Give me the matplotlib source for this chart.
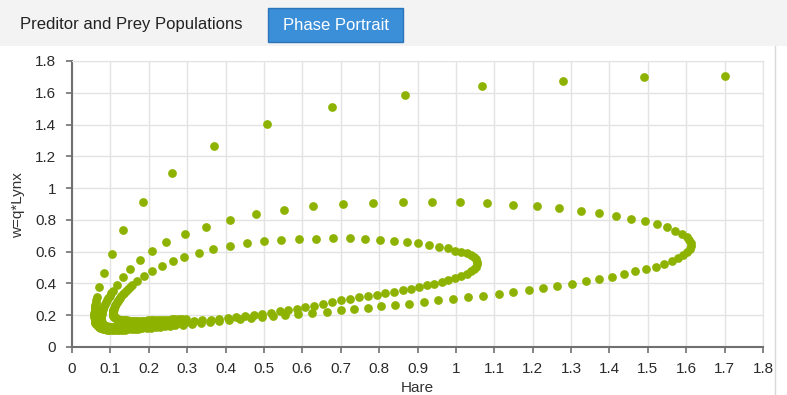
import matplotlib.pyplot as plt
from matplotlib.patches import Rectangle
from matplotlib.lines import Line2D

plt.rcParams['font.family'] = ['Liberation Sans', 'DejaVu Sans']

# trajectory, (hare, w=q*Lynx), in time order
first_drop = [(1.701, 1.705), (1.490, 1.697), (1.278, 1.676), (1.068, 1.643), (0.867, 1.588),
              (0.677, 1.508), (0.509, 1.401), (0.369, 1.263), (0.260, 1.097), (0.184, 0.914),
              (0.134, 0.738), (0.103, 0.587), (0.084, 0.468), (0.071, 0.376), (0.065, 0.313),
              (0.063, 0.295), (0.062, 0.280), (0.061, 0.265), (0.060, 0.251), (0.059, 0.238),
              (0.059, 0.225), (0.058, 0.213), (0.058, 0.201), (0.058, 0.190), (0.059, 0.179),
              (0.059, 0.169), (0.060, 0.160), (0.061, 0.152), (0.063, 0.144), (0.065, 0.137),
              (0.067, 0.131), (0.070, 0.125), (0.073, 0.121), (0.077, 0.117), (0.081, 0.114),
              (0.086, 0.112), (0.091, 0.110), (0.097, 0.109), (0.103, 0.108)]

outer_lap = [(0.109, 0.108), (0.116, 0.108), (0.123, 0.108), (0.130, 0.109), (0.138, 0.110),
             (0.146, 0.111), (0.155, 0.112), (0.164, 0.113), (0.173, 0.115), (0.183, 0.117),
             (0.195, 0.119), (0.206, 0.122), (0.218, 0.124), (0.230, 0.127), (0.243, 0.130),
             (0.256, 0.133), (0.269, 0.136), (0.290, 0.141), (0.312, 0.146), (0.335, 0.151),
             (0.359, 0.157), (0.384, 0.163), (0.410, 0.169), (0.437, 0.175), (0.465, 0.181),
             (0.494, 0.187), (0.524, 0.193), (0.555, 0.199), (0.588, 0.205), (0.626, 0.212),
             (0.665, 0.220), (0.701, 0.231), (0.735, 0.239), (0.770, 0.247), (0.805, 0.256),
             (0.842, 0.264), (0.879, 0.273), (0.917, 0.281), (0.954, 0.294), (0.993, 0.302),
             (1.032, 0.313), (1.071, 0.323), (1.111, 0.334), (1.150, 0.346), (1.190, 0.361),
             (1.228, 0.373), (1.264, 0.386), (1.302, 0.398), (1.338, 0.413), (1.373, 0.430),
             (1.407, 0.442), (1.437, 0.457), (1.467, 0.478), (1.494, 0.491), (1.520, 0.505),
             (1.542, 0.524), (1.562, 0.541), (1.579, 0.560), (1.592, 0.578), (1.602, 0.596),
             (1.609, 0.615), (1.612, 0.634), (1.612, 0.653), (1.608, 0.672), (1.601, 0.694),
             (1.589, 0.714), (1.572, 0.732), (1.551, 0.753), (1.523, 0.772), (1.493, 0.791),
             (1.456, 0.808), (1.417, 0.826), (1.373, 0.843), (1.326, 0.856), (1.269, 0.873),
             (1.210, 0.885), (1.148, 0.896), (1.082, 0.904), (1.012, 0.910), (0.938, 0.910),
             (0.861, 0.910), (0.783, 0.908), (0.705, 0.898), (0.628, 0.885), (0.551, 0.862),
             (0.479, 0.837), (0.411, 0.799), (0.348, 0.757), (0.294, 0.709), (0.246, 0.659),
             (0.208, 0.604), (0.177, 0.545), (0.152, 0.491), (0.133, 0.439), (0.116, 0.390)]

inner_lap = [(0.106, 0.355), (0.101, 0.338), (0.098, 0.324), (0.094, 0.309), (0.091, 0.296),
             (0.088, 0.283), (0.086, 0.271), (0.084, 0.259), (0.082, 0.248), (0.080, 0.238),
             (0.079, 0.228), (0.078, 0.219), (0.077, 0.210), (0.076, 0.202), (0.076, 0.194),
             (0.076, 0.187), (0.076, 0.180), (0.076, 0.173), (0.076, 0.166), (0.077, 0.159),
             (0.078, 0.152), (0.079, 0.146), (0.081, 0.141), (0.083, 0.137), (0.086, 0.133),
             (0.090, 0.130), (0.094, 0.128), (0.098, 0.127), (0.102, 0.126), (0.107, 0.125),
             (0.112, 0.125), (0.117, 0.125), (0.123, 0.125), (0.129, 0.125), (0.136, 0.126),
             (0.143, 0.127), (0.150, 0.128), (0.157, 0.129), (0.165, 0.130), (0.173, 0.131),
             (0.181, 0.133), (0.189, 0.134), (0.198, 0.136), (0.207, 0.138), (0.216, 0.140),
             (0.225, 0.142), (0.235, 0.144), (0.245, 0.146), (0.255, 0.148), (0.275, 0.152),
             (0.296, 0.157), (0.317, 0.162), (0.339, 0.167), (0.361, 0.172), (0.383, 0.178),
             (0.406, 0.184), (0.428, 0.190), (0.451, 0.196), (0.473, 0.203), (0.496, 0.210),
             (0.518, 0.217), (0.541, 0.225), (0.563, 0.233), (0.586, 0.242), (0.608, 0.251),
             (0.631, 0.261), (0.653, 0.271), (0.676, 0.283), (0.700, 0.294), (0.724, 0.302),
             (0.748, 0.313), (0.770, 0.321), (0.794, 0.329), (0.816, 0.340), (0.839, 0.348),
             (0.861, 0.357), (0.882, 0.367), (0.904, 0.378), (0.924, 0.388), (0.944, 0.398),
             (0.963, 0.411), (0.980, 0.424), (0.998, 0.436), (1.014, 0.449), (1.028, 0.462),
             (1.039, 0.476), (1.047, 0.491), (1.052, 0.506), (1.054, 0.521), (1.054, 0.536),
             (1.052, 0.551), (1.047, 0.566), (1.039, 0.580), (1.029, 0.592), (1.014, 0.600),
             (0.998, 0.606), (0.979, 0.621), (0.955, 0.631), (0.930, 0.642), (0.901, 0.653),
             (0.873, 0.663), (0.839, 0.669), (0.802, 0.675), (0.763, 0.680), (0.723, 0.684),
             (0.679, 0.684), (0.636, 0.682), (0.591, 0.680), (0.544, 0.673), (0.500, 0.665),
             (0.455, 0.653), (0.411, 0.634), (0.368, 0.617), (0.331, 0.594), (0.293, 0.568),
             (0.262, 0.541), (0.234, 0.510), (0.208, 0.480), (0.187, 0.447), (0.169, 0.417)]

last_drop = [(0.156, 0.390), (0.150, 0.377), (0.145, 0.365), (0.140, 0.353), (0.136, 0.342),
             (0.132, 0.331), (0.128, 0.320), (0.125, 0.310), (0.122, 0.300), (0.119, 0.290),
             (0.117, 0.281), (0.115, 0.272), (0.113, 0.264), (0.111, 0.256), (0.110, 0.248),
             (0.109, 0.240), (0.108, 0.233), (0.107, 0.226), (0.107, 0.220), (0.107, 0.214),
             (0.107, 0.208), (0.107, 0.203), (0.108, 0.198), (0.109, 0.194), (0.110, 0.190),
             (0.111, 0.186), (0.113, 0.183), (0.115, 0.180), (0.117, 0.177), (0.119, 0.175),
             (0.122, 0.173), (0.125, 0.171), (0.128, 0.170), (0.131, 0.169), (0.135, 0.168),
             (0.139, 0.167), (0.143, 0.167), (0.147, 0.166), (0.152, 0.166), (0.157, 0.166),
             (0.162, 0.166), (0.167, 0.166), (0.173, 0.166), (0.179, 0.166), (0.185, 0.166),
             (0.191, 0.166), (0.198, 0.167), (0.205, 0.167), (0.212, 0.168), (0.219, 0.169),
             (0.227, 0.170), (0.235, 0.171), (0.243, 0.172), (0.251, 0.173), (0.260, 0.174),
             (0.269, 0.175), (0.278, 0.176), (0.287, 0.177), (0.297, 0.178)]

x_ticks = [0, 0.1, 0.2, 0.3, 0.4, 0.5, 0.6, 0.7, 0.8, 0.9, 1, 1.1, 1.2, 1.3, 1.4, 1.5, 1.6, 1.7, 1.8]
y_ticks = [0, 0.2, 0.4, 0.6, 0.8, 1, 1.2, 1.4, 1.6, 1.8]

W, H = 787, 395
fig = plt.figure(figsize=(W / 100, H / 100), dpi=100)

# tab bar on top
fig.add_artist(Rectangle((0, 1 - 46 / H), 1, 46 / H, transform=fig.transFigure,
                         facecolor='#f3f3f3', edgecolor='none'))
fig.add_artist(Rectangle((268 / W, 1 - 42 / H), 135 / W, 34 / H, transform=fig.transFigure,
                         facecolor='#3b8fd9', edgecolor='#2b74b8', lw=1))
fig.text(20 / W, 1 - 25 / H, 'Preditor and Prey Populations', fontsize=12,
         color='#222222', ha='left', va='center')
fig.text(336 / W, 1 - 25 / H, 'Phase Portrait', fontsize=12,
         color='white', ha='center', va='center')
fig.add_artist(Line2D([775 / W, 775 / W], [0, 1 - 46 / H], transform=fig.transFigure,
                      color='#d8d8d8', lw=1))

ax = fig.add_axes([72 / W, 48 / H, 691 / W, 286 / H])

green = '#8db300'
for seg in [first_drop, outer_lap, inner_lap, last_drop]:
    xs = [p[0] for p in seg]
    ys = [p[1] for p in seg]
    ax.plot(xs, ys, 'o', color=green, ms=6.3, mew=0, zorder=3)

ax.set_xlim(0, 1.8)
ax.set_ylim(0, 1.8)
ax.set_xticks(x_ticks)
ax.set_xticklabels([f'{v:g}' for v in x_ticks])
ax.set_yticks(y_ticks)
ax.set_yticklabels([f'{v:g}' for v in y_ticks])
ax.grid(True, color='#e3e3e3', lw=1)
ax.set_axisbelow(True)

for s in ['top', 'right']:
    ax.spines[s].set_color('#e3e3e3')
for s in ['left', 'bottom']:
    ax.spines[s].set_color('#707070')
    ax.spines[s].set_linewidth(1.5)
ax.tick_params(axis='both', length=4.5, width=1.2, color='#707070',
               labelsize=11, labelcolor='#2a2a2a')
ax.tick_params(axis='x', pad=6)
ax.tick_params(axis='y', pad=7)

fig.text(417 / W, 1 - 388 / H, 'Hare', fontsize=11, color='#333333',
         ha='center', va='center')
fig.text(18 / W, 1 - 205 / H, 'w=q*Lynx', fontsize=11, color='#333333',
         rotation=90, ha='center', va='center')

fig.savefig('out.png', dpi=100)
